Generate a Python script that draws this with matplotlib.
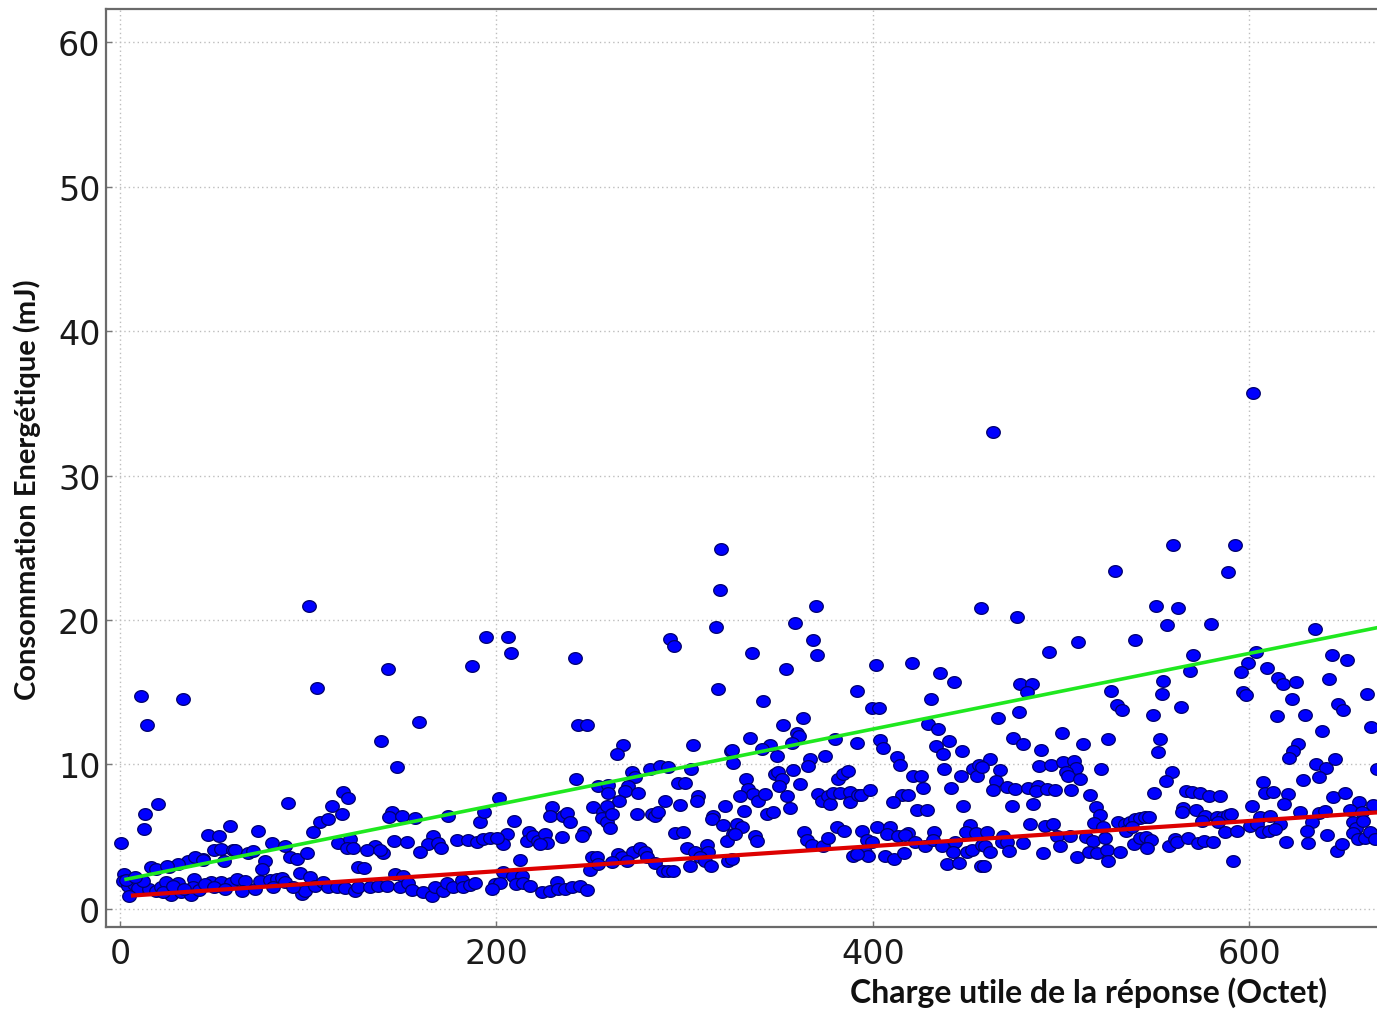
import numpy as np
import matplotlib
matplotlib.use("Agg")
import matplotlib.pyplot as plt
from matplotlib.path import Path

payload = [
    11.2, 33.3, 14.3, 20.0, 13.5, 12.6, 0.5, 58.4, 46.6, 52.8, 50.1, 53.7, 55.4, 59.9, 36.0, 39.5, 43.9,
    16.5, 19.1, 26.2, 30.6, 2.3, 1.4, 4.1, 7.6, 9.4, 5.0, 15.6, 19.1, 21.8, 24.4, 27.1, 30.6, 32.4, 37.7,
    38.6, 48.4, 53.7, 59.0, 12, 23, 28, 34, 42, 45, 50, 56, 3, 8, 25, 40, 44,
    100.4, 104.5, 89.4, 118.7, 121.3, 112.5, 117.8, 106.3, 110.7, 102.4, 73.5, 80.6, 87.7, 61.1, 68.2,
    70.9, 77.0, 75.3, 90.3, 93.9, 99.5, 116.0, 122.2, 120.4, 123.6, 95.6, 100.9, 96.5, 98.3, 62.0, 66.4,
    64.6, 71.7, 74.4, 79.7, 83.2, 85.9, 87.7, 81.5, 92.1, 103.6, 108.0, 110.7, 115.1, 119.6, 124.9, 126.6,
    142.3, 158.6, 138.7, 147.4, 187.2, 194.5, 144.4, 143.1, 149.7, 156.8, 174.5, 191.3, 145.6, 152.4,
    135.5, 131.5, 140.0, 138.2, 166.5, 163.9, 168.8, 170.6, 159.4, 178.9, 185.1, 189.5, 193.1, 129.7,
    126.7, 132.9, 137.3, 141.7, 146.2, 150.6, 148.8, 153.2, 155.0, 161.2, 165.6, 167.4, 171.8, 173.6,
    177.1, 181.6, 182.5, 186.0, 188.7,
    206.4, 207.6, 241.8, 243.5, 248.3, 242.3, 201.6, 254.2, 259.5, 193.4, 209.4, 229.4, 228.5, 235.6,
    237.7, 239.1, 251.5, 256.8, 255.9, 258.6, 246.6, 245.3, 217.5, 216.1, 219.6, 222.3, 225.8, 226.7,
    223.2, 234.7, 205.5, 203.7, 196.6, 200.2, 212.6, 250.6, 253.3, 249.7, 254.2, 203.7, 209.0, 213.4,
    210.4, 214.3, 217.9, 199.3, 201.9, 197.5, 224.1, 228.5, 232.0, 232.9, 236.5, 240.0, 244.4, 248.0,
    319.3, 318.8, 316.5, 292.2, 294.5, 317.9, 267.4, 263.9, 304.3, 324.7, 271.9, 273.6, 269.7, 268.3,
    275.4, 259.5, 281.6, 286.9, 291.4, 303.4, 296.3, 300.2, 265.1, 307.0, 306.4, 289.6, 297.6, 321.5,
    258.6, 261.2, 260.4, 274.5, 282.5, 284.3, 286.0, 315.3, 314.4, 320.6, 325.9, 294.9, 299.3, 322.3,
    301.1, 305.5, 311.7, 312.6, 264.8, 266.6, 272.8, 276.3, 279.0, 279.8, 284.3, 269.2, 288.7, 291.4,
    294.0, 302.9, 308.2, 310.8, 314.0, 323.2, 261.2,
    369.8, 358.6, 368.4, 370.5, 335.6, 353.7, 391.8, 341.5, 362.7, 352.4, 359.5, 360.9, 334.7, 325.0,
    345.4, 348.9, 356.9, 340.9, 379.9, 391.4, 374.6, 366.6, 365.7, 325.9, 357.4, 348.0, 349.8, 351.6,
    350.3, 361.3, 332.6, 333.8, 336.5, 339.2, 342.7, 329.4, 354.6, 356.0, 331.5, 343.6, 346.8, 381.7,
    384.3, 387.0, 371.0, 372.8, 376.3, 377.2, 379.0, 382.5, 387.9, 387.9, 392.3, 327.6, 330.3, 326.8,
    337.4, 338.3, 363.4, 364.8, 367.5, 373.7, 376.3, 380.8, 384.7, 325.0, 389.6, 392.3,
    457.5, 401.5, 420.6, 435.7, 443.3, 430.9, 399.4, 403.4, 429.5, 434.8, 403.8, 405.6, 440.6, 433.4,
    437.4, 447.2, 412.6, 414.4, 421.5, 425.6, 426.8, 438.0, 441.5, 446.8, 453.4, 456.4, 455.1, 393.7,
    398.5, 415.3, 418.5, 410.5, 423.3, 428.6, 448.1, 394.5, 402.0, 409.1, 407.3, 413.5, 418.8, 417.1,
    432.7, 451.6, 449.3, 454.6, 396.7, 399.4, 395.8, 397.6, 391.4, 406.4, 411.4, 416.7, 422.4, 427.7,
    432.1, 436.6, 443.6, 442.7, 439.2, 445.8, 449.8, 452.5, 457.8, 457.5,
    476.5, 509.2, 493.7, 478.3, 484.5, 481.8, 477.4, 466.7, 526.4, 500.4, 474.4, 479.7, 489.4, 511.6,
    524.8, 462.3, 467.6, 457.9, 465.5, 463.7, 488.5, 494.5, 501.3, 507.0, 508.0, 502.7, 503.9, 510.1,
    521.1, 471.2, 475.6, 482.7, 487.5, 486.8, 492.4, 496.9, 505.2, 515.4, 518.6, 520.8, 473.8, 485.3,
    483.6, 491.5, 495.6, 517.6, 522.2, 460.5, 469.4, 468.5, 471.2, 480.0, 497.7, 499.2, 504.5, 513.3,
    517.2, 523.4, 459.7, 462.0, 458.8, 472.6, 490.3, 508.4, 514.6, 519.3, 524.3, 525.2,
    559.7, 528.7, 588.6, 550.3, 562.4, 556.2, 579.7, 539.3, 570.3, 568.6, 554.4, 553.5, 529.6, 532.6,
    563.8, 548.6, 552.6, 551.4, 558.8, 555.6, 549.6, 566.3, 569.8, 573.9, 578.7, 584.5, 565.0, 564.1,
    571.6, 576.5, 574.8, 582.7, 586.3, 588.9, 583.6, 587.2, 530.5, 534.0, 536.7, 539.3, 542.0, 544.7,
    546.8, 534.4, 537.6, 531.4, 539.0, 542.0, 545.0, 547.8, 545.5, 557.4, 560.6, 561.5, 567.7, 572.6,
    576.2, 581.0,
    592.5, 635.0, 603.6, 643.8, 651.8, 599.5, 595.5, 609.6, 615.5, 617.8, 624.9, 642.6, 596.5, 598.3,
    622.6, 662.4, 647.4, 649.7, 614.6, 629.7, 664.5, 638.5, 625.8, 623.5, 621.3, 635.5, 640.8, 645.6,
    667.7, 628.4, 637.3, 607.5, 608.4, 612.5, 620.8, 618.5, 644.7, 650.9, 658.5, 665.6, 601.3, 590.2,
    627.0, 637.3, 640.3, 653.6, 659.8, 605.7, 611.1, 616.4, 600.4, 604.0, 593.3, 606.6, 610.7, 613.7,
    633.2, 630.5, 641.5, 655.3, 656.7, 655.3, 658.0, 661.5, 664.2, 666.8, 660.7, 619.6, 631.4, 646.5,
    649.1, 591.2,
    464.0, 602.0,
]
energy = [
    14.75, 14.5, 12.7, 7.26, 6.6, 5.5, 4.56, 5.76, 5.1, 5.07, 4.08, 4.15, 3.34, 4.1, 3.34, 2.1, 3.46,
    2.88, 2.76, 2.88, 3.1, 2.4, 1.96, 1.6, 1.7, 1.43, 0.92, 1.38, 1.27, 1.5, 1.84, 0.97, 1.8, 1.15, 0.97,
    1.5, 1.84, 1.84, 1.8, 1.9, 1.2, 1.6, 1.4, 1.3, 1.7, 1.5, 1.4, 2.0, 2.2, 3.0, 3.6, 3.4,
    21.0, 15.3, 7.33, 8.1, 7.7, 7.1, 6.57, 6.0, 6.2, 5.35, 5.4, 4.56, 4.33, 4.1, 3.9,
    4.0, 3.34, 2.76, 3.57, 3.46, 3.87, 4.56, 4.84, 4.19, 4.19, 2.49, 2.19, 1.04, 1.27, 2.07, 1.96,
    1.27, 1.38, 1.96, 2.03, 2.07, 2.12, 1.89, 1.5, 1.5, 1.57, 1.89, 1.5, 1.5, 1.43, 1.27, 2.88,
    16.6, 12.95, 11.6, 9.8, 16.8, 18.8, 6.68, 6.34, 6.4, 6.27, 6.4, 6.04, 4.72, 4.6,
    4.38, 4.1, 3.9, 4.1, 5.07, 4.5, 4.56, 4.19, 3.96, 4.79, 4.79, 4.65, 4.84, 2.83,
    1.5, 1.5, 1.57, 1.57, 2.42, 2.3, 1.5, 1.8, 1.34, 1.15, 0.92, 1.5, 1.27, 1.8,
    1.5, 2.03, 1.5, 1.66, 1.8,
    18.8, 17.7, 17.4, 12.74, 12.74, 9.03, 7.7, 8.5, 8.6, 6.73, 6.08, 7.03, 6.4, 6.4,
    6.64, 6.04, 7.03, 6.68, 6.27, 5.99, 5.35, 5.07, 5.35, 4.72, 5.07, 4.72, 5.18, 4.56,
    4.5, 4.95, 5.18, 4.5, 4.88, 4.88, 3.41, 3.57, 3.57, 2.72, 3.1, 2.53, 2.3, 2.3,
    1.73, 1.8, 1.57, 1.73, 1.8, 1.38, 1.15, 1.27, 1.84, 1.38, 1.38, 1.5, 1.57, 1.34,
    24.9, 22.05, 19.5, 18.7, 18.2, 15.2, 11.34, 10.7, 11.34, 10.95, 9.45, 9.1, 8.48, 8.18,
    8.06, 8.0, 9.68, 9.9, 9.86, 9.68, 8.7, 8.7, 7.49, 7.83, 7.49, 7.49, 7.19, 7.1,
    7.14, 6.57, 5.58, 6.57, 6.57, 6.45, 6.73, 6.45, 6.22, 5.83, 5.18, 5.25, 5.35, 4.68,
    4.19, 3.96, 4.42, 3.96, 3.8, 3.57, 3.92, 4.19, 3.96, 3.57, 3.18, 3.34, 2.65, 2.65,
    2.65, 3.0, 3.57, 3.34, 3.0, 3.34, 3.23,
    21.0, 19.8, 18.6, 17.56, 17.7, 16.6, 15.1, 14.4, 13.25, 12.7, 12.2, 11.98, 11.8, 11.0,
    11.34, 10.6, 11.5, 11.06, 11.75, 11.5, 10.6, 10.4, 9.9, 10.07, 9.65, 9.33, 9.5, 8.99,
    8.48, 8.64, 8.99, 8.29, 7.95, 7.49, 7.95, 7.83, 7.79, 6.96, 6.8, 6.57, 6.73, 8.99,
    9.33, 9.56, 7.95, 7.49, 7.83, 7.26, 8.06, 8.06, 8.11, 7.42, 7.88, 5.88, 5.64, 5.18,
    5.02, 4.72, 5.3, 4.79, 4.42, 4.38, 4.88, 5.64, 5.41, 3.46, 3.64, 3.96,
    20.8, 16.9, 17.05, 16.3, 15.7, 14.5, 13.9, 13.9, 12.8, 12.44, 11.7, 11.13, 11.6, 11.3,
    10.7, 10.94, 10.5, 9.95, 9.17, 9.17, 8.34, 9.68, 8.34, 9.17, 9.68, 9.95, 9.17, 7.88,
    8.25, 7.88, 7.88, 7.42, 6.87, 6.87, 7.14, 5.41, 5.69, 5.69, 5.18, 5.07, 5.25, 5.12,
    5.35, 5.8, 5.3, 5.25, 4.79, 4.6, 3.96, 3.64, 3.8, 3.69, 3.46, 3.87, 4.65, 4.33,
    4.79, 4.33, 4.65, 3.92, 3.1, 3.18, 3.96, 4.1, 4.42, 3.0,
    20.2, 18.5, 17.8, 15.55, 15.55, 15.0, 13.66, 13.25, 15.1, 12.17, 11.8, 11.45, 11.0, 11.4,
    11.75, 10.37, 9.63, 9.86, 8.87, 8.25, 9.9, 9.95, 10.18, 10.25, 9.79, 9.5, 9.17, 8.99,
    9.72, 8.41, 8.29, 8.34, 8.48, 8.18, 8.29, 8.25, 8.25, 7.88, 7.03, 6.5, 7.1, 7.26,
    5.88, 5.76, 5.88, 5.94, 5.64, 5.3, 5.07, 4.65, 4.6, 4.56, 5.07, 4.38, 5.02, 4.95,
    4.72, 4.88, 4.38, 3.92, 3.0, 4.03, 3.87, 3.57, 3.96, 3.87, 4.1, 3.34,
    25.2, 23.4, 23.3, 21.0, 20.85, 19.65, 19.74, 18.6, 17.6, 16.5, 15.8, 14.86, 14.1, 13.8,
    13.99, 13.43, 11.75, 10.88, 9.45, 8.85, 8.0, 8.18, 8.11, 8.0, 7.83, 7.83, 6.96, 6.68,
    6.84, 6.4, 6.1, 6.34, 6.34, 6.5, 5.99, 5.3, 6.04, 5.88, 6.04, 6.22, 6.27, 6.34,
    6.34, 5.41, 5.64, 3.96, 4.5, 4.88, 4.95, 4.79, 4.19, 4.38, 4.84, 4.6, 4.88, 4.56,
    4.72, 4.6,
    25.2, 19.4, 17.8, 17.6, 17.2, 17.0, 16.4, 16.7, 16.0, 15.55, 15.7, 15.9, 15.05, 14.8,
    14.5, 14.86, 14.2, 13.8, 13.36, 13.43, 12.6, 12.33, 11.4, 10.94, 10.48, 10.02, 9.79, 10.37,
    9.72, 8.94, 9.1, 8.76, 8.0, 8.11, 7.95, 7.26, 7.72, 8.02, 7.42, 7.19, 7.1, 6.57,
    6.68, 6.64, 6.8, 6.87, 6.68, 6.34, 6.4, 5.88, 5.76, 5.88, 5.41, 5.35, 5.41, 5.53,
    5.99, 5.41, 5.12, 6.04, 5.58, 5.25, 4.84, 4.88, 5.3, 4.84, 6.1, 4.6, 4.56, 4.03,
    4.5, 3.34,
    33.0, 35.7,
]

# linear fits drawn over the cloud: (start x, intercept, slope)
upper_fit = (2.3, 1.97, 0.0262)
lower_fit = (5.8, 0.87, 0.0087)

x_ticks = [0, 200, 400, 600]
y_ticks = [0, 10, 20, 30, 40, 50, 60]

fig = plt.figure(figsize=(13.77, 10.12), dpi=100)
ax = fig.add_axes([106 / 1377, 84 / 1012, 1275 / 1377, 918 / 1012])

# points in the reference are slightly wider than tall
t = np.linspace(0, 2 * np.pi, 40)
ellipse = Path(np.column_stack([np.cos(t), 0.86 * np.sin(t)]))

ax.plot(payload, energy, linestyle="none", marker=ellipse, markersize=9.8,
        markerfacecolor="#0000ff", markeredgecolor="#00006a", markeredgewidth=0.9, zorder=3)

x_end = 672
for (x0, b, m), col, lw in [(upper_fit, "#1fe81f", 2.6), (lower_fit, "#dd0000", 3.0)]:
    xs = np.array([x0, x_end])
    ax.plot(xs, b + m * xs, color=col, linewidth=lw, solid_capstyle="butt", zorder=4)

ax.set_xlim(-7.44, 670.0)
ax.set_ylim(-1.25, 62.3)
ax.set_xticks(x_ticks)
ax.set_yticks(y_ticks)
ax.grid(True, color="#bdbdbd", linestyle=(0, (1, 2.2)), linewidth=1.0, zorder=0)
ax.tick_params(direction="in", length=4, width=1, color="#777777", labelsize=24,
               labelcolor="#1a1a1a")
ax.tick_params(axis="y", pad=4)
ax.tick_params(axis="x", pad=7)
for lab in ax.get_xticklabels() + ax.get_yticklabels():
    lab.set_family("DejaVu Sans")
for s in ax.spines.values():
    s.set_color("#6a6a6a")
    s.set_linewidth(1.6)
ax.spines["right"].set_visible(False)

fig.text(1088 / 1377, 1 - 993 / 1012, "Charge utile de la réponse (Octet)", family="Lato",
         fontweight="bold", fontsize=23, ha="center", va="center", color="#111111")
fig.text(27 / 1377, 1 - 490 / 1012, "Consommation Energétique (mJ)", family="Lato",
         fontweight="bold", fontsize=21, rotation=90, ha="center", va="center", color="#111111")

fig.savefig("out.png", dpi=100)
